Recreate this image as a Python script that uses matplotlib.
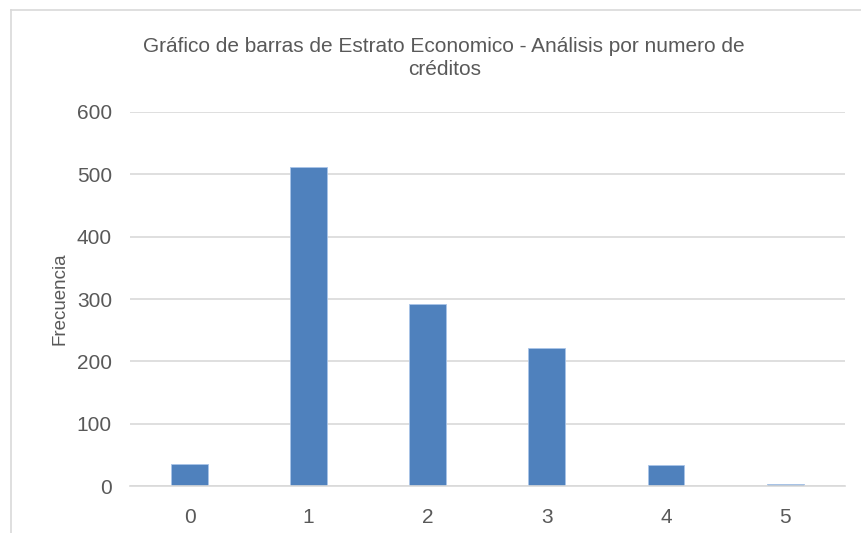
import matplotlib.pyplot as plt
from matplotlib.lines import Line2D

plt.rcParams['font.family'] = ['Liberation Sans', 'DejaVu Sans']

# ===== datos =====
categorias = ["0", "1", "2", "3", "4", "5"]
frecuencia = [35, 512, 292, 222, 34, 3]

titulo = "Gráfico de barras de Estrato Economico - Análisis por numero de\ncréditos"

GRIS_TEXTO = "#595959"
GRIS_LINEA = "#d9d9d9"
AZUL = "#4f81bd"

fig = plt.figure(figsize=(8.61, 5.33), dpi=100)
ax = fig.add_axes([0.151, 0.088, 0.830, 0.702])

x = range(len(categorias))
ax.bar(x, frecuencia, width=0.31, color=AZUL, edgecolor="#a9c4e8",
       linewidth=0.6, zorder=3)

ax.set_xlim(-0.5, len(categorias) - 0.5)
ax.set_ylim(0, 600)
ax.set_yticks(range(0, 601, 100))
ax.set_xticks(list(x))
ax.set_xticklabels(categorias)

ax.yaxis.grid(True, color=GRIS_LINEA, linewidth=1.2, zorder=0)
for s in ["top", "right", "left"]:
    ax.spines[s].set_visible(False)
ax.spines["bottom"].set_color(GRIS_LINEA)
ax.spines["bottom"].set_linewidth(1.2)
ax.spines["bottom"].set_zorder(4)

ax.tick_params(axis="both", length=0, labelsize=15, labelcolor=GRIS_TEXTO)
ax.tick_params(axis="y", pad=13)
ax.tick_params(axis="x", pad=16)

ax.set_ylabel("Frecuencia", fontsize=13.5, color=GRIS_TEXTO, labelpad=6)

fig.text(0.516, 0.891, titulo, ha="center", va="center", fontsize=15,
         color=GRIS_TEXTO, linespacing=1.3)

# marco del gráfico
fig.add_artist(Line2D([11 / 861, 1], [1 - 10 / 533, 1 - 10 / 533],
                      transform=fig.transFigure, color=GRIS_LINEA, linewidth=1.2))
fig.add_artist(Line2D([11 / 861, 11 / 861], [0, 1 - 10 / 533],
                      transform=fig.transFigure, color=GRIS_LINEA, linewidth=1.2))

fig.savefig("out.png", dpi=100)
